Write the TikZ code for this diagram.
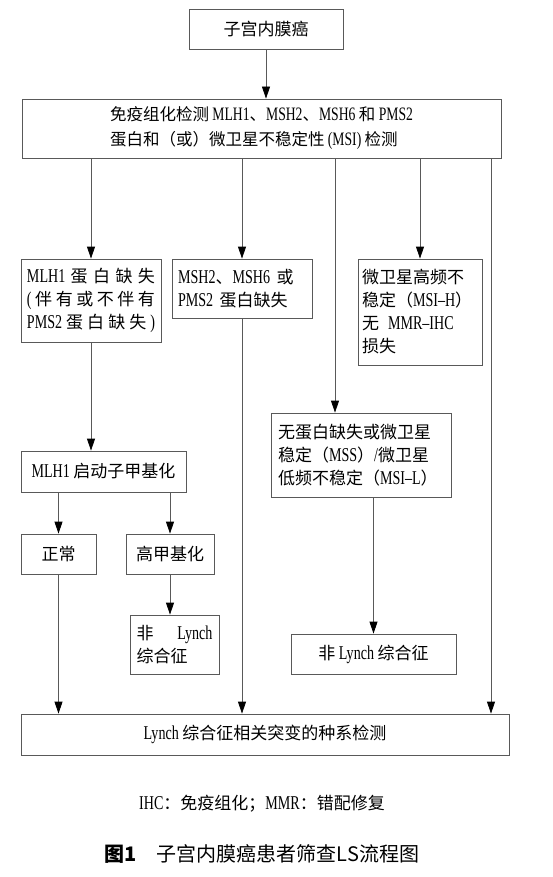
\documentclass[tikz,border=0pt]{standalone}
\usepackage{fontspec}
\setmainfont{Liberation Serif}[Scale=1.15, FakeStretch=0.72]
\newfontfamily\cjk{Noto Sans CJK SC}
\usetikzlibrary{arrows.meta}
\newcommand{\zh}[1]{{\cjk #1}}
\definecolor{linegray}{gray}{0.35}

\tikzset{
  box/.style={draw=linegray, line width=0.8pt, inner sep=0pt, font=\fontsize{17}{23}\selectfont},
  arr/.style={draw=linegray, line width=0.8pt, -{Triangle[length=12pt,width=8pt,color=black]}},
}

\begin{document}
\begin{tikzpicture}[x=1pt, y=-1pt]

  \useasboundingbox (0,0) rectangle (552,877);

  \node[box, minimum width=154pt, minimum height=40pt] (ec) at (266,29) {\zh{子宫内膜癌}};
  \node[box, align=left, minimum width=479pt, minimum height=59pt, font=\fontsize{16.5}{25}\selectfont] (ihc) at (261.5,128.5)
    {\zh{免疫组化检测} MLH1\zh{、}MSH2\zh{、}MSH6 \zh{和} PMS2\\\zh{蛋白和（或）微卫星不稳定性} (MSI) \zh{检测}};

  \node[box, text width=128pt, align=left, minimum width=140pt, minimum height=83pt] (mlh) at (91,300.5)
    {MLH1\hfill\zh{蛋}\hfill\zh{白}\hfill\zh{缺}\hfill\zh{失}\\
     (\hfill\zh{伴}\hfill\zh{有}\hfill\zh{或}\hfill\zh{不}\hfill\zh{伴}\hfill\zh{有}\\
     PMS2\hfill\zh{蛋}\hfill\zh{白}\hfill\zh{缺}\hfill\zh{失}\hfill)};
  \node[box, text width=128pt, align=left, minimum width=140pt, minimum height=59pt] (msh) at (242,288.5)
    {MSH2\zh{、}MSH6 \zh{或}\\PMS2 \zh{蛋白缺失}};
  \node[box, text width=116pt, align=left, minimum width=124pt, minimum height=106pt] (msih) at (420,312)
    {\zh{微卫星高频不}\\\mbox{\zh{稳定（}MSI--H\zh{）}}\\\zh{无}\hspace{9pt}MMR--IHC\\\zh{损失}};

  \node[box, minimum width=165pt, minimum height=41pt] (meth) at (103.5,471.5) {MLH1 \zh{启动子甲基化}};
  \node[box, text width=166pt, align=left, minimum width=180pt, minimum height=84pt] (mss) at (361,455)
    {\zh{无蛋白缺失或微卫星}\\\zh{稳定（}MSS\zh{）}/\zh{微卫星}\\\zh{低频不稳定（}MSI--L\zh{）}};

  \node[box, minimum width=75pt, minimum height=40pt] (normal) at (58.5,554) {\zh{正常}};
  \node[box, minimum width=88pt, minimum height=40pt] (hyper) at (170,554) {\zh{高甲基化}};
  \node[box, text width=76pt, align=left, minimum width=89pt, minimum height=59pt] (nonls1) at (174.5,644.5)
    {\zh{非}\hfill Lynch\\\zh{综合征}};
  \node[box, minimum width=165pt, minimum height=40pt] (nonls2) at (373.5,654) {\zh{非} Lynch \zh{综合征}};

  \node[box, minimum width=488pt, minimum height=41pt] (germ) at (265,734.5) {Lynch \zh{综合征相关突变的种系检测}};

  \node[font=\fontsize{17}{20}\selectfont] (note) at (262,804) {IHC\zh{：免疫组化；}MMR\zh{：错配修复}};
  \node[font=\cjk\fontsize{20}{24}\selectfont] (cap) at (262,854) {\textbf{图1}\hspace{1em}子宫内膜癌患者筛查LS流程图};

  \coordinate (p1) at (335,0);
  \coordinate (p2) at (491,0);

  \draw[arr] (ec.south) -- (ec.south |- ihc.north); %% ec->ihc
  \draw[arr] (ihc.south -| mlh) -- (mlh.north);
  \draw[arr] (ihc.south -| msh) -- (msh.north);
  \draw[arr] (ihc.south -| p1) -- (mss.north -| p1);
  \draw[arr] (ihc.south -| msih) -- (msih.north);
  \draw[arr] (ihc.south -| p2) -- (germ.north -| p2); %% ihc->germ

  \draw[arr] (mlh.south) -- (mlh.south |- meth.north);
  \draw[arr] (msh.south) -- (msh.south |- germ.north);
  \draw[arr] (meth.south -| normal) -- (normal.north);
  \draw[arr] (meth.south -| hyper) -- (hyper.north);
  \draw[arr] (hyper.south) -- (hyper.south |- nonls1.north);
  \draw[arr] (normal.south) -- (normal.south |- germ.north);
  \draw[arr] (mss.south -| nonls2) -- (nonls2.north); %% mss->nonls2

\end{tikzpicture}
\end{document}
